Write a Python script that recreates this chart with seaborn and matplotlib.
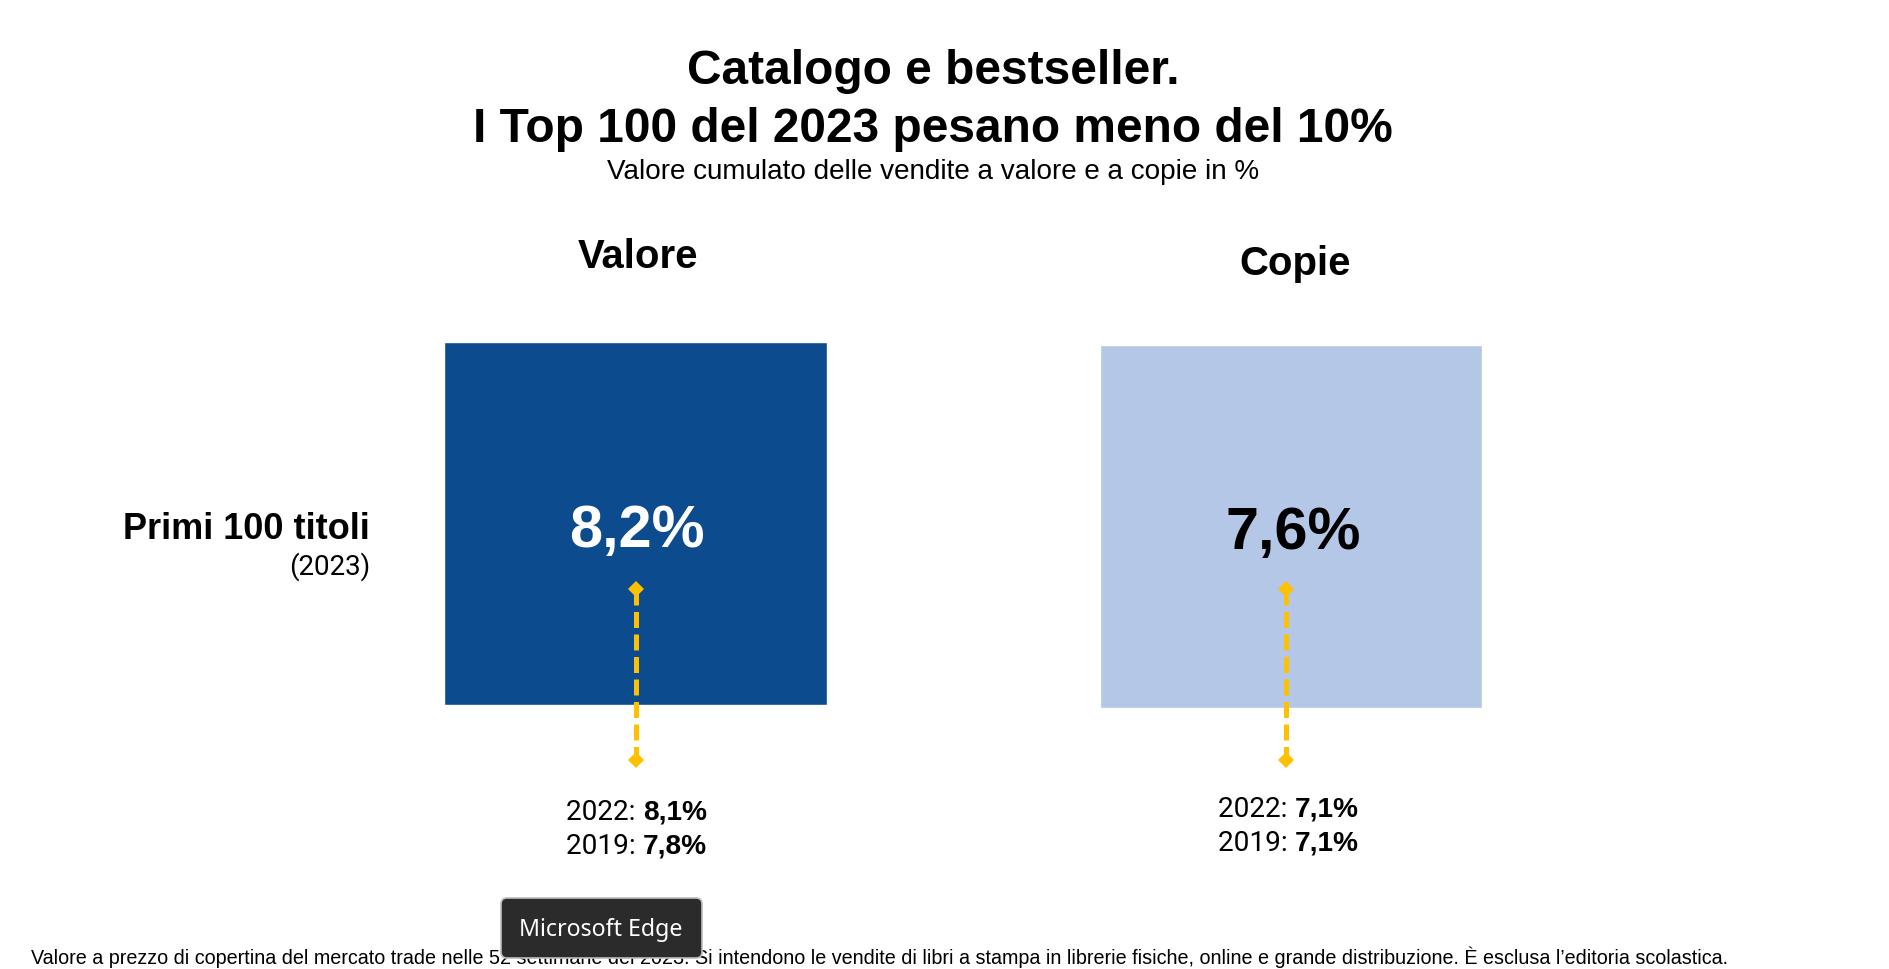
import matplotlib
matplotlib.use("Agg")
import matplotlib.pyplot as plt
from matplotlib.patches import FancyBboxPatch
import pandas as pd
import seaborn as sns

sns.set_theme(style="white")
plt.rcParams["font.family"] = ["Liberation Sans", "DejaVu Sans"]

W, H = 1890, 970
metrics = ["Valore", "Copie"]
share_2023 = [8.2, 7.6]
share_2022 = [8.1, 7.1]
share_2019 = [7.8, 7.1]
row_label = "Primi 100 titoli"
row_year = "(2023)"
title_lines = ["Catalogo e bestseller.", "I Top 100 del 2023 pesano meno del 10%"]
subtitle = "Valore cumulato delle vendite a valore e a copie in %"
footer = ("Valore a prezzo di copertina del mercato trade nelle 52 settimane del 2023. "
          "Si intendono le vendite di libri a stampa in librerie fisiche, online e grande "
          "distribuzione. È esclusa l’editoria scolastica.")
tooltip = "Microsoft Edge"

colors = ["#0C4C8E", "#B4C7E7"]
text_colors = ["white", "black"]
rects = [(444, 343, 827, 706), (1100.5, 346, 1482, 709)]
head_xy = [(638, 257), (1295, 264)]
val_xy = [(637, 532), (1293, 534)]
line_x = [636, 1286]
line_y = [(590, 761), (590, 761)]
hist_y = [(813, 847), (810, 844)]
hist_x = [643, 1295]

fig = plt.figure(figsize=(W / 100, H / 100), dpi=100, facecolor="white")
df = pd.DataFrame({"metric": metrics, "share": share_2023})

for i, m in enumerate(metrics):
    x0, y0, x1, y1 = rects[i]
    ax = fig.add_axes([x0 / W, 1 - y1 / H, (x1 - x0) / W, (y1 - y0) / H])
    sns.barplot(data=df[df.metric == m], x="metric", y="share", color=colors[i],
                width=1, saturation=1, ax=ax)
    ax.set_xlim(-0.5, 0.5)
    ax.set_ylim(0, share_2023[i])
    ax.axis("off")

ov = fig.add_axes([0, 0, 1, 1], zorder=5)
ov.set_xlim(0, W)
ov.set_ylim(H, 0)
ov.axis("off")
ov.patch.set_alpha(0)

def fmt(v):
    return f"{v:.1f}".replace(".", ",") + "%"

for y, s in zip((71, 130), title_lines):
    ov.text(933, y, s, ha="center", va="center", fontsize=34.5, fontweight="bold", color="black")
ov.text(933, 172, subtitle, ha="center", va="center", fontsize=20.05, color="black")

ov.text(370, 530, row_label, ha="right", va="center", fontsize=26, fontweight="bold", color="black")
ov.text(370, 567, row_year, ha="right", va="center", fontsize=20, family="Roboto", color="black")

for i, m in enumerate(metrics):
    ov.text(*head_xy[i], m, ha="center", va="center", fontsize=28.9, fontweight="bold", color="black")
    ov.text(*val_xy[i], fmt(share_2023[i]), ha="center", va="center", fontsize=42.8,
            fontweight="bold", color=text_colors[i])
    ov.plot([line_x[i], line_x[i]], line_y[i], color="#FFC000", lw=3.6, ls=(0, (3.2, 1.3)), zorder=6)
    ov.plot([line_x[i], line_x[i]], line_y[i], ls="none", marker="D", ms=8.5, color="#FFC000",
            markeredgewidth=0, zorder=7)
    for y, yr, v in zip(hist_y[i], ("2022", "2019"), (share_2022[i], share_2019[i])):
        ov.text(hist_x[i], y, f"{yr}: ", ha="right", va="center", fontsize=20.2, family="Roboto", color="black")
        ov.text(hist_x[i], y, fmt(v), ha="left", va="center", fontsize=20.2, fontweight="bold", color="black")

ov.text(31, 957, footer, ha="left", va="center", fontsize=14.24, color="black", zorder=4)

box = FancyBboxPatch((501, 899), 201, 60, boxstyle="round,pad=0,rounding_size=6",
                     fc="#2B2B2B", ec="#BDBDBD", lw=1.2, zorder=8)
ov.add_patch(box)
ov.text(601, 930, tooltip, ha="center", va="center", fontsize=16.7, family="Noto Sans", color="white", zorder=9)

fig.savefig("out.png", dpi=100, facecolor="white")
